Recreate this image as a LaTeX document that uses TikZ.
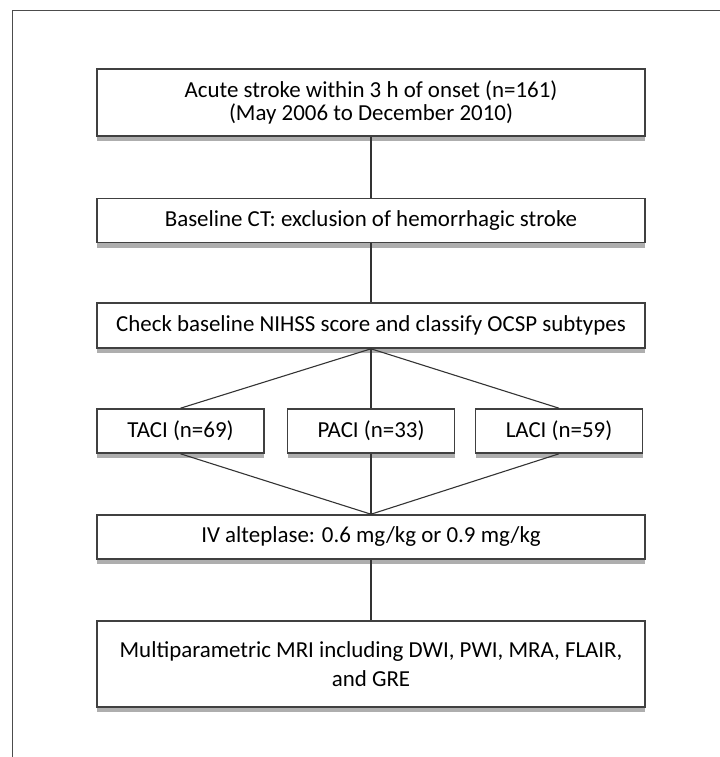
\documentclass[tikz,border=0pt]{standalone}
\usepackage{fontspec}
\setmainfont{Carlito}
\usetikzlibrary{positioning, shadows}

\tikzset{
  stage/.style={draw=black!75, line width=1.6pt, fill=white, align=center, inner sep=0pt,
    minimum height=44bp, font=\fontsize{23}{24}\selectfont,
    drop shadow={shadow xshift=0pt, shadow yshift=-5bp, opacity=.45, fill=black!70}},
  wide/.style={stage, minimum width=548bp},
  subtype/.style={stage, minimum width=167bp},
  link/.style={draw=black!80, line width=1.1pt}
}

\begin{document}
\begin{tikzpicture}[x=1bp, y=-1bp]
    \useasboundingbox (0,0) rectangle (720,757);
    \draw[black!70, line width=1pt] (12,757) -- (12,10) -- (720,10);
    \node[wide, minimum height=67bp] (onset) at (371,102.5) {Acute stroke within 3 h of onset (n=161)\\(May 2006 to December 2010)};
    \node[wide] (ct) at (371,220.5) {Baseline CT: exclusion of hemorrhagic stroke};
    \node[wide, minimum height=45bp] (ocsp) at (371,325.5) {Check baseline NIHSS score and classify OCSP subtypes};
    \node[subtype] (taci) at (180.5,431) {TACI (n=69)};
    \node[subtype] (paci) at (371,431) {PACI (n=33)};
    \node[subtype] (laci) at (559,431) {LACI (n=59)};
    \node[wide] (alteplase) at (371,537) {IV alteplase: 0.6 mg/kg or 0.9 mg/kg};
    \node[wide, minimum height=86bp, font=\fontsize{23}{29}\selectfont] (mri) at (371,664) {Multiparametric MRI including DWI, PWI, MRA, FLAIR,\\and GRE};
    \draw[link] (onset) -- (ct);
    \draw[link] (ct) -- (ocsp);
    \draw[link] (ocsp.south) -- (taci.north);
    \draw[link] (ocsp.south) -- (paci.north);
    \draw[link] (ocsp.south) -- (laci.north);
    \draw[link] (taci.south) -- (alteplase.north);
    \draw[link] (paci.south) -- (alteplase.north);
    \draw[link] (laci.south) -- (alteplase.north);
    \draw[link] (alteplase) -- (mri);
\end{tikzpicture}
\end{document}
